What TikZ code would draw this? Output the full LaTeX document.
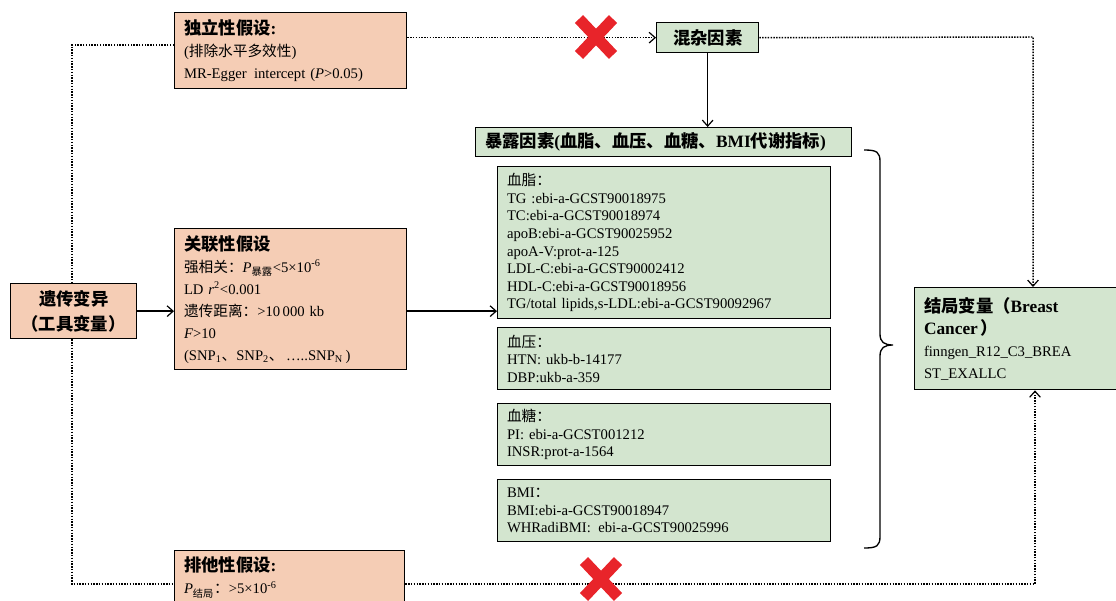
\documentclass[tikz,border=0pt]{standalone}
\usepackage{fontspec}
\setmainfont{Liberation Serif}
\newfontfamily\cjk{Noto Sans CJK SC}
\usetikzlibrary{arrows.meta}
\newcommand{\zh}[1]{{\cjk #1}}
\definecolor{peach}{HTML}{F5CDB5}
\definecolor{sage}{HTML}{D3E5CF}
\definecolor{crossred}{HTML}{E8242A}

\begin{document}
\begin{tikzpicture}[x=0.75pt, y=-0.75pt, >={Straight Barb[length=4.5pt, width=8pt, line width=0.9pt]},
    box/.style={draw=black, line width=1pt, anchor=north west, align=left, inner xsep=7pt, inner ysep=0pt},
    hypo/.style={box, fill=peach, font=\fontsize{11}{16.5}\selectfont},
    data/.style={box, fill=sage, font=\fontsize{11}{13.2}\selectfont, minimum width=249.75pt, text width=235.75pt},
    title/.style={font=\fontsize{13}{16}\selectfont\bfseries},
    dotline/.style={densely dotted, line width=1.1pt},
    cross/.style={crossred, line width=8.5pt}]

    \useasboundingbox (0,0) rectangle (1116,600);
    \clip (0,0) rectangle (1116,600);

    \node[hypo, minimum width=174pt, minimum height=57pt, text width=160pt] (indep) at (174,12)
        {{\fontsize{13}{16}\selectfont\bfseries\zh{独立性假设}:}\\
         (\zh{排除水平多效性})\\
         MR-Egger\enspace intercept (\textit{P}>0.05)};
    \node[hypo, minimum width=94.5pt, minimum height=41.25pt, text width=80.5pt, align=center, font=\fontsize{13}{19}\selectfont\bfseries] (iv) at (10,283)
        {\zh{遗传变异}\\ \zh{（工具变量）}};
    \node[hypo, minimum width=174pt, minimum height=105.75pt, text width=160pt] (assoc) at (174,228)
        {{\fontsize{13}{16}\selectfont\bfseries\zh{关联性假设}}\\
         \zh{强相关：}\textit{P}\textsubscript{\zh{暴露}}<5×10\textsuperscript{-6}\\
         LD \textit{r}\textsuperscript{2}<0.001\\
         \zh{遗传距离：}>10\,000 kb\\
         \textit{F}>10\\
         (SNP\textsubscript{1}\zh{、}SNP\textsubscript{2}\zh{、}\,…..SNP\textsubscript{N}\,)};
    \node[hypo, minimum width=172.5pt, minimum height=40.5pt, text width=158.5pt] (excl) at (174,550)
        {{\fontsize{13}{16}\selectfont\bfseries\zh{排他性假设}:}\\
         \textit{P}\textsubscript{\zh{结局}}\zh{：}>5×10\textsuperscript{-6}};

    \node[box, fill=sage, title, minimum width=76.5pt, minimum height=22.5pt, align=center] (conf) at (656,22) {\zh{混杂因素}};
    \node[box, fill=sage, title, minimum width=282pt, minimum height=21.75pt, text width=268pt] (expo) at (475,127)
        {\zh{暴露因素}(\zh{血脂、血压、血糖、}BMI\zh{代谢指标})};

    \node[data, minimum height=114pt] (lipid) at (497,166)
        {\zh{血脂：}\\
         TG :ebi-a-GCST90018975\\
         TC:ebi-a-GCST90018974\\
         apoB:ebi-a-GCST90025952\\
         apoA-V:prot-a-125\\
         LDL-C:ebi-a-GCST90002412\\
         HDL-C:ebi-a-GCST90018956\\
         TG/total lipids,s-LDL:ebi-a-GCST90092967};
    \node[data, minimum height=46.5pt] (bp) at (497,327)
        {\zh{血压：}\\ HTN: ukb-b-14177\\ DBP:ukb-a-359};
    \node[data, minimum height=46.5pt] (glu) at (497,403)
        {\zh{血糖：}\\ PI: ebi-a-GCST001212\\ INSR:prot-a-1564};
    \node[data, minimum height=46.5pt] (bmi) at (497,479)
        {BMI\zh{：}\\ BMI:ebi-a-GCST90018947\\ WHRadiBMI:\enspace ebi-a-GCST90025996};

    \node[box, fill=sage, font=\fontsize{11}{16.5}\selectfont, minimum width=160pt, minimum height=76.5pt, text width=146pt] (outc) at (914,287)
        {{\fontsize{13}{18}\selectfont\bfseries\zh{结局变量（}Breast\\ Cancer\,\zh{）}}\\
         finngen\_R12\_C3\_BREA\\
         ST\_EXALLC};

    \coordinate (tl) at (72,45);
    \coordinate (bl) at (72,584);
    \coordinate (tr) at (1033,37);
    \coordinate (br) at (1035,584);

    \draw[dotline] (indep.west |- tl) -- (tl) -- (iv.north -| tl);
    \draw[dotline] (iv.south -| tl) -- (bl) -- (excl.west |- bl);
    \draw[dotline, ->] (indep.east |- conf.west) -- (conf.west);
    \draw[dotline, ->] (conf.east) -- (tr) -- (outc.north -| tr);
    \draw[dotline, ->] (excl.east |- br) -- (br) -- (outc.south -| br);

    \draw[line width=1.1pt, ->] (iv.east) -- (iv.east -| assoc.west);
    \draw[line width=1.1pt, ->] (assoc.east |- iv.east) -- (lipid.west |- iv.east);
    \draw[line width=1.1pt, ->] (conf.south) -- (conf.south |- expo.north);

    \draw[line width=1pt] (864,150) .. controls (877,150) and (880,152) .. (880,162) -- (880,334)
        .. controls (880,342) and (884,345) .. (893,345) .. controls (884,345) and (880,348) .. (880,356)
        -- (880,536) .. controls (880,546) and (877,548) .. (864,548);

    \draw[cross] (579,19) -- (613,55) (579,55) -- (613,19);
    \draw[cross] (584,561) -- (618,597) (584,597) -- (618,561);
\end{tikzpicture}
\end{document}
